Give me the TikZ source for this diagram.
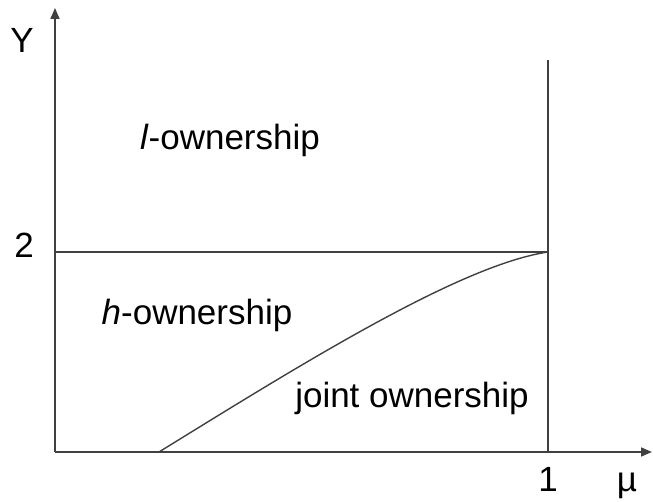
\documentclass[tikz,border=0pt]{standalone}
\usepackage{fontspec}
\setmainfont{Liberation Sans}
\usepackage{tikz}
\usetikzlibrary{arrows.meta,positioning}
\tikzset{every node/.style={font=\fontsize{17.5}{21}\selectfont}}

\begin{document}
\begin{tikzpicture}[
  x=0.5pt, y=0.5pt,
  axis/.style={draw=black!75, line width=0.8pt, -{Triangle[length=5.5pt,width=4.5pt]}},
  border/.style={draw=black!75, line width=0.7pt},
  region/.style={inner sep=0pt, text=black},
  ticklab/.style={anchor=base, inner sep=0pt}
]
\useasboundingbox (0,0) rectangle (653,502);

% axes
\coordinate (origin) at (55,50);
\coordinate (ytop) at (55,494);
\coordinate (xend) at (652,50);
\draw[axis] (origin) -- (ytop);
\draw[axis] (origin) -- (xend);

% boundaries
\coordinate (top1) at (548,442);
\coordinate (foot1) at (548,50);
\coordinate (left2) at (55,250);
\coordinate (right2) at (548,250);
\coordinate (start) at (159,50);
\draw[border] (foot1) -- (top1);
\draw[border] (left2) -- (right2);
\draw[border] (start) .. controls (300,137) and (460,237) .. (right2);

% axis labels
\node[ticklab] (ylab) at (22,449) {Y};
\node[ticklab] (two) at (24,244) {2};
\node[ticklab] (one) at (548,10) {1};
\node[ticklab] (mulab) at (627,10) {µ};

% regions
\node[region] (lown) at (230,362) {\textit{l}-ownership};
\node[region] (hown) at (197,187) {\textit{h}-ownership};
\node[region] (jown) at (412,104) {joint ownership};

\end{tikzpicture}
\end{document}
